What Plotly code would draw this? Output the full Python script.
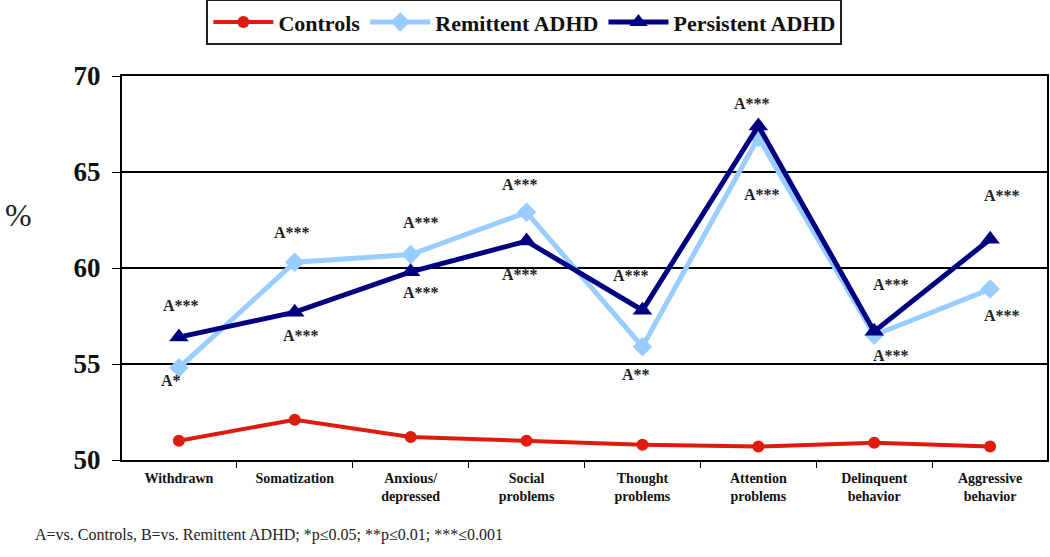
import plotly.graph_objects as go

categories = ["Withdrawn", "Somatization", "Anxious/<br>depressed", "Social<br>problems",
              "Thought<br>problems", "Attention<br>problems", "Delinquent<br>behavior", "Aggressive<br>behavior"]
controls = [51.0, 52.1, 51.2, 51.0, 50.8, 50.7, 50.9, 50.7]
remittent = [54.8, 60.3, 60.7, 62.9, 55.9, 66.8, 56.5, 58.9]
persistent = [56.4, 57.7, 59.8, 61.4, 57.8, 67.4, 56.7, 61.5]
labels_above = ["A***"] * 8
labels_below = ["A*", "A***", "A***", "A***", "A**", "A***", "A***", "A***"]
y_ticks = [50, 55, 60, 65, 70]

# pixel offsets for significance labels (layout only)
above_shift = [32, 30, 32, 28, 35, 22, 47, 44]
above_xshift = [2, -3, 10, -7, -11, -6, 17, 12]
below_shift = [-13, -23, -21, -33, -28, -57, -20, -26]
below_xshift = [-8, 6, 10, -7, -6, 4, 17, 12]

SERIF = "Liberation Serif, Times New Roman, Times, serif"

fig = go.Figure()
fig.add_trace(go.Scatter(x=categories, y=controls, name="Controls", mode="lines+markers",
                         line=dict(color="#dd1c0c", width=4),
                         marker=dict(symbol="circle", size=12, color="#dd1c0c")))
fig.add_trace(go.Scatter(x=categories, y=remittent, name="Remittent ADHD", mode="lines+markers",
                         line=dict(color="#99ccff", width=5),
                         marker=dict(symbol="diamond", size=15, color="#99ccff")))
fig.add_trace(go.Scatter(x=categories, y=persistent, name="Persistent ADHD", mode="lines+markers",
                         line=dict(color="#000080", width=5),
                         marker=dict(symbol="triangle-up", size=17, color="#000080")))

lab_font = dict(family=SERIF, size=16, color="#222222", weight="bold")
for i, c in enumerate(categories):
    top = max(remittent[i], persistent[i])
    bot = min(remittent[i], persistent[i])
    fig.add_annotation(x=c, y=top, text=labels_above[i], showarrow=False,
                       yshift=above_shift[i], xshift=above_xshift[i], font=lab_font)
    fig.add_annotation(x=c, y=bot, text=labels_below[i], showarrow=False,
                       yshift=below_shift[i], xshift=below_xshift[i], font=lab_font)

fig.add_annotation(xref="paper", yref="paper", x=-0.112, y=0.638, xanchor="center", yanchor="middle",
                   text="%", showarrow=False,
                   font=dict(family=SERIF, size=32, color="#222222"))
fig.add_annotation(xref="paper", yref="paper", x=-0.096, y=-0.195, xanchor="left", yanchor="middle",
                   text="A=vs. Controls, B=vs. Remittent ADHD; *p\u22640.05; **p\u22640.01; ***\u22640.001",
                   showarrow=False, font=dict(family=SERIF, size=16, color="#222222"))

fig.update_layout(
    width=1050, height=557,
    margin=dict(l=122, r=3, t=76, b=97, autoexpand=False),
    paper_bgcolor="white", plot_bgcolor="white",
    showlegend=True,
    legend=dict(orientation="h", x=0.435, xanchor="center", y=1.2, yanchor="top",
                bordercolor="#222222", borderwidth=2, bgcolor="white",
                font=dict(family=SERIF, size=22, color="#111111", weight="bold"),
                itemwidth=60, tracegroupgap=0),
    font=dict(family=SERIF, color="#111111"),
)
fig.update_xaxes(type="category", showline=True, linecolor="black", linewidth=2, mirror=True,
                 ticks="outside", tickson="boundaries", ticklen=6, tickcolor="black",
                 ticklabelstandoff=4,
                 tickfont=dict(family=SERIF, size=14, color="#111111", weight="bold"),
                 showgrid=False)
fig.update_yaxes(range=[50, 70], tickvals=y_ticks, showline=True, linecolor="black", linewidth=2,
                 mirror=True, ticks="outside", ticklen=8, tickcolor="black",
                 ticklabelstandoff=6,
                 showgrid=True, gridcolor="black", gridwidth=1.5, zeroline=False,
                 tickfont=dict(family=SERIF, size=27, color="#111111", weight="bold"))

fig.write_html("out.html", config={"displayModeBar": False},
               post_script="document.body.style.margin='0';")
